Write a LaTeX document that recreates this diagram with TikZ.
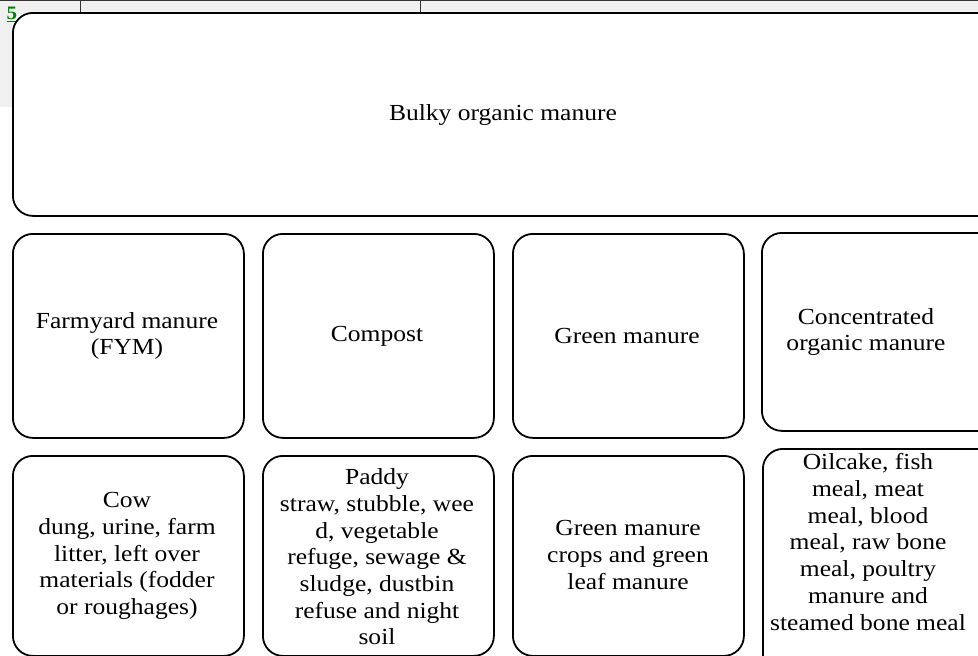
\documentclass[tikz,border=0pt]{standalone}
\usepackage{fontspec}
\setmainfont{Liberation Serif}[FakeStretch=1.11]
\begin{document}
\begin{tikzpicture}[x=1pt,y=-1pt,
  box/.style={draw=black, line width=1.8pt, rounded corners=20pt, fill=white,
    inner sep=0pt, anchor=north west},
  lbl/.style={align=center, inner sep=0pt, font=\fontsize{23}{26.7}\selectfont},
  rule/.style={draw=black!80, line width=0.9pt}]
\useasboundingbox (0,0) rectangle (978,656);
\clip (0,0) rectangle (978,656);
% page fragment above
\fill[black!6] (0,0) rectangle (978,14);
\fill[black!6] (0,0) rectangle (12,107);
\draw[rule] (0,0.8) -- (978,0.8);
\draw[rule] (80,0) -- (80,14);
\draw[rule] (420,0) -- (420,14);
\node[text=green!50!black, inner sep=0pt, font=\fontsize{19}{19}\selectfont\bfseries] (five) at (12,14) {\underline{5}};
% boxes
\node[box, minimum width=998pt, minimum height=203pt] (top) at (12,12) {};
\node[box, minimum width=231pt, minimum height=204pt] (a1) at (12,233) {};
\node[box, minimum width=231pt, minimum height=204pt] (a2) at (262,233) {};
\node[box, minimum width=231pt, minimum height=204pt] (a3) at (512,233) {};
\node[box, minimum width=250pt, minimum height=198pt] (a4) at (761,232) {};
\node[box, minimum width=231pt, minimum height=200pt] (b1) at (12,455) {};
\node[box, minimum width=231pt, minimum height=200pt] (b2) at (262,455) {};
\node[box, minimum width=231pt, minimum height=200pt] (b3) at (512,455) {};
\node[box, minimum width=250pt, minimum height=230pt] (b4) at (762,448) {};
% texts
\node[lbl] (ttop) at (503,115) {Bulky organic manure};
\node[lbl] (ta1) at (127,336) {Farmyard manure\\(FYM)};
\node[lbl] (ta2) at (377,336) {Compost};
\node[lbl] (ta3) at (627,336) {Green manure};
\node[lbl] (ta4) at (866,332) {Concentrated\\organic manure};
\node[lbl] (tb1) at (127,556) {Cow\\dung, urine, farm\\litter, left over\\materials (fodder\\or roughages)};
\node[lbl] (tb2) at (377,557) {Paddy\\straw, stubble, wee\\d, vegetable\\refuge, sewage \&\\sludge, dustbin\\refuse and night\\soil};
\node[lbl] (tb3) at (628,555) {Green manure\\crops and green\\leaf manure};
\node[lbl] (tb4) at (868,542) {Oilcake, fish\\meal, meat\\meal, blood\\meal, raw bone\\meal, poultry\\manure and\\steamed bone meal};
\end{tikzpicture}
\end{document}
